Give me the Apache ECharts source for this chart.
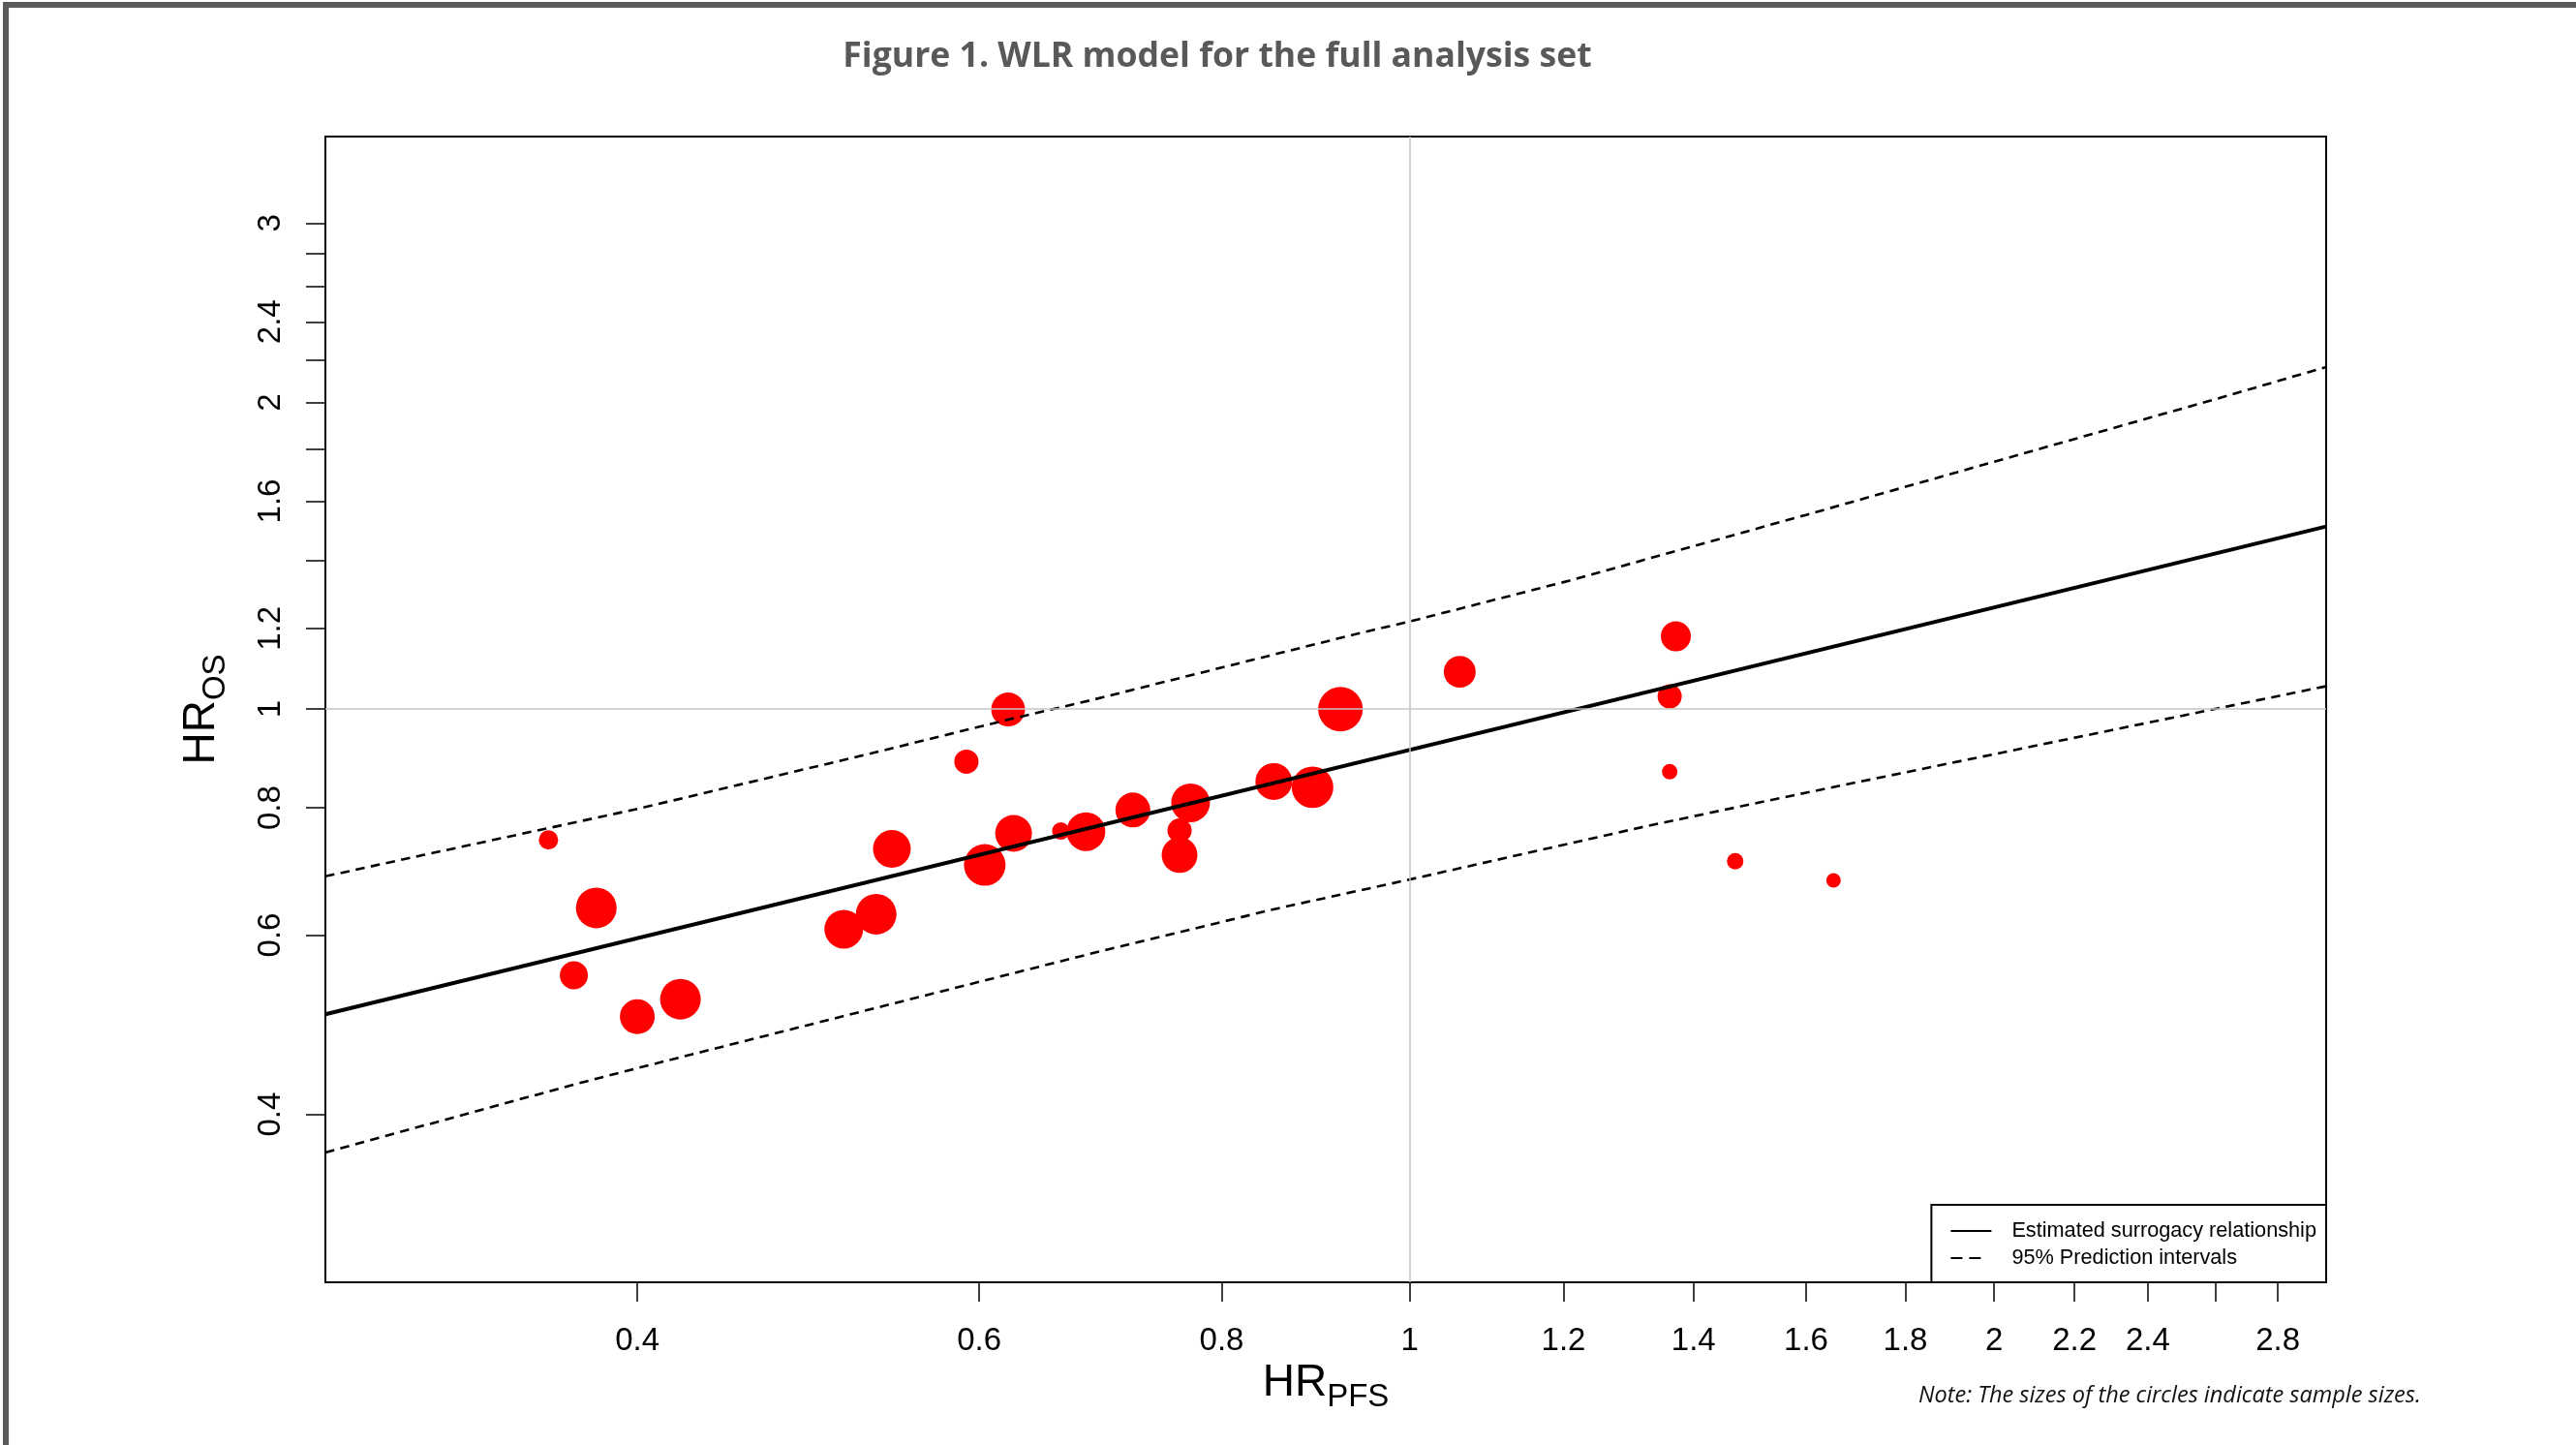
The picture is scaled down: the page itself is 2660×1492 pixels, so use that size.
<!DOCTYPE html>
<html>
<head>
<meta charset="utf-8">
<style>
html, body { margin: 0; padding: 0; background: #fff; }
#chart { width: 2660px; height: 1492px; }
</style>
<script src="https://cdn.jsdelivr.net/npm/echarts@6/dist/echarts.min.js"></script>
</head>
<body>
<div id="chart"></div>
<script>
// trials: hazard ratios
var hrPfs = [0.360, 0.381, 0.371, 0.400, 0.421, 0.511, 0.531, 0.541, 0.591, 0.621, 0.604, 0.625, 0.661, 0.681,
             0.720, 0.761, 0.761, 0.771, 0.851, 0.891, 0.921, 1.061, 1.371, 1.361, 1.361, 1.471, 1.653];
var hrOs = [0.744, 0.638, 0.548, 0.499, 0.519, 0.608, 0.629, 0.729, 0.888, 0.999, 0.703, 0.755, 0.759, 0.758,
            0.796, 0.760, 0.719, 0.809, 0.849, 0.838, 1.000, 1.088, 1.179, 1.029, 0.868, 0.709, 0.679];
// relative sample sizes (circle area)
var sampleSizes = [100, 441, 210, 324, 441, 400, 441, 380, 156, 306, 462, 361, 81, 400,
                   324, 156, 342, 400, 361, 462, 529, 272, 240, 156, 64, 72, 56];

// estimated surrogacy relationship (straight on log-log)
var fitX = [0.2763, 2.965];
var fitY = [0.5017, 1.5108];

// 95% prediction interval curves
var upperX = [0.2763, 0.3099, 0.4, 0.5275, 0.6209, 0.6877, 0.9378, 1.0, 1.2075, 1.6, 2.6377, 2.965];
var upperY = [0.6852, 0.7186, 0.7979, 0.9044, 0.9764, 1.022, 1.1847, 1.219, 1.3364, 1.551, 2.0306, 2.167];
var lowerX = [0.2763, 0.3099, 0.3721, 0.4, 0.6877, 0.8539, 1.0, 1.3237, 1.6, 2.965];
var lowerY = [0.3671, 0.3897, 0.4286, 0.4441, 0.5764, 0.637, 0.6803, 0.7674, 0.8278, 1.053];

var xTicks = [0.4, 0.6, 0.8, 1, 1.2, 1.4, 1.6, 1.8, 2, 2.2, 2.4, 2.6, 2.8];
var xTickLabels = [0.4, 0.6, 0.8, 1, 1.2, 1.4, 1.6, 1.8, 2, 2.2, 2.4, 2.8];
var yTicks = [0.4, 0.6, 0.8, 1, 1.2, 1.4, 1.6, 1.8, 2, 2.2, 2.4, 2.6, 2.8, 3];
var yTickLabels = [0.4, 0.6, 0.8, 1, 1.2, 1.6, 2, 2.4, 3];

var xRange = [0.2763, 2.965];
var yRange = [0.2737, 3.648];

function pairs(xs, ys) {
    return xs.map(function (x, i) {
        return [x, ys[i]];
    });
}

var FONT = "'Liberation Sans', Arial, sans-serif";

// "HR" with a subscript
var nameRich = {
    a: {fontSize: 46, lineHeight: 64, fontFamily: FONT, color: "#000", verticalAlign: "top"},
    b: {fontSize: 33, lineHeight: 33, height: 52, fontFamily: FONT, color: "#000", verticalAlign: "bottom"}
};

var chart = echarts.init(document.getElementById("chart"), null, {renderer: "canvas"});

var option = {
    backgroundColor: "#fff",
    animation: false,
    textStyle: {fontFamily: FONT},
    grid: {
        left: 336,
        right: 258,
        top: 141,
        bottom: 168,
        show: true,
        borderColor: "#000",
        borderWidth: 2,
        containLabel: false
    },
    xAxis: {
        type: "log",
        min: xRange[0],
        max: xRange[1],
        axisLine: {show: false},
        splitLine: {show: false},
        minorTick: {show: false},
        axisTick: {
            show: true,
            length: 20,
            customValues: xTicks,
            lineStyle: {color: "#000", width: 1.5}
        },
        axisLabel: {
            customValues: xTickLabels,
            margin: 44,
            fontSize: 33,
            fontFamily: FONT,
            color: "#000",
            formatter: function (v) {
                return String(+(+v).toFixed(2));
            }
        },
        name: "{a|HR}{b|PFS}",
        nameLocation: "middle",
        nameGap: 81,
        nameMoveOverlap: false,
        nameTextStyle: {rich: nameRich}
    },
    yAxis: {
        type: "log",
        min: yRange[0],
        max: yRange[1],
        axisLine: {show: false},
        splitLine: {show: false},
        minorTick: {show: false},
        axisTick: {
            show: true,
            length: 20,
            customValues: yTicks,
            lineStyle: {color: "#000", width: 1.5}
        },
        axisLabel: {
            customValues: yTickLabels,
            rotate: 90,
            margin: 40,
            fontSize: 33,
            fontFamily: FONT,
            color: "#000",
            formatter: function (v) {
                return String(+(+v).toFixed(2));
            }
        },
        name: "{a|HR}{b|OS}",
        nameLocation: "middle",
        nameRotate: 90,
        nameGap: 87,
        nameMoveOverlap: false,
        nameTextStyle: {rich: nameRich}
    },
    legend: {
        orient: "vertical",
        right: 258,
        bottom: 168,
        align: "left",
        padding: [14, 10, 12, 19],
        itemWidth: 42,
        itemHeight: 14,
        itemGap: 2,
        backgroundColor: "#fff",
        borderColor: "#000",
        borderWidth: 2,
        borderRadius: 0,
        selectedMode: false,
        itemStyle: {opacity: 0, borderWidth: 0},
        textStyle: {
            fontFamily: FONT,
            fontSize: 21.7,
            lineHeight: 26,
            color: "#000",
            padding: [0, 0, 0, 16]
        },
        data: [
            {name: "Estimated surrogacy relationship", lineStyle: {width: 2, color: "#000", type: "solid"}},
            {name: "95% Prediction intervals", lineStyle: {width: 2, color: "#000", type: [12, 7, 12, 20]}}
        ]
    },
    graphic: [
        {type: "rect", shape: {x: 3, y: 2, width: 2657, height: 6}, style: {fill: "#5a5a5a"}, silent: true},
        {type: "rect", shape: {x: 3, y: 2, width: 6, height: 1490}, style: {fill: "#5a5a5a"}, silent: true},
        {
            type: "text", x: 1257, y: 59, silent: true,
            style: {
                text: "Figure 1. WLR model for the full analysis set",
                fill: "#595959",
                font: "bold 35.6px 'Open Sans', sans-serif",
                textAlign: "center",
                textVerticalAlign: "middle"
            }
        },
        {
            type: "text", x: 1981, y: 1441, silent: true,
            style: {
                text: "Note: The sizes of the circles indicate sample sizes.",
                fill: "#111",
                font: "italic 23.5px 'Open Sans', sans-serif",
                textAlign: "left",
                textVerticalAlign: "middle"
            }
        }
    ],
    series: [
        {
            name: "ref",
            type: "line",
            data: [],
            z: 1,
            silent: true,
            markLine: {
                silent: true,
                symbol: "none",
                label: {show: false},
                lineStyle: {color: "#c4c4c4", width: 1.5, type: "solid"},
                data: [{xAxis: 1}, {yAxis: 1}]
            }
        },
        {
            name: "Trials",
            type: "scatter",
            z: 2,
            data: hrPfs.map(function (x, i) {
                return [x, hrOs[i], sampleSizes[i]];
            }),
            symbol: "circle",
            symbolSize: function (v) {
                return 2 * Math.sqrt(v[2]);
            },
            itemStyle: {color: "#ff0000", opacity: 1, borderWidth: 0}
        },
        {
            name: "Estimated surrogacy relationship",
            type: "line",
            z: 3,
            data: pairs(fitX, fitY),
            symbol: "none",
            lineStyle: {color: "#000", width: 4}
        },
        {
            name: "95% Prediction intervals",
            type: "line",
            z: 3,
            data: pairs(upperX, upperY),
            symbol: "none",
            lineStyle: {color: "#000", width: 2.6, type: [9.5, 6.5]}
        },
        {
            name: "95% Prediction intervals",
            type: "line",
            z: 3,
            data: pairs(lowerX, lowerY),
            symbol: "none",
            lineStyle: {color: "#000", width: 2.6, type: [9.5, 6.5]}
        }
    ]
};

chart.setOption(option);
</script>
</body>
</html>
